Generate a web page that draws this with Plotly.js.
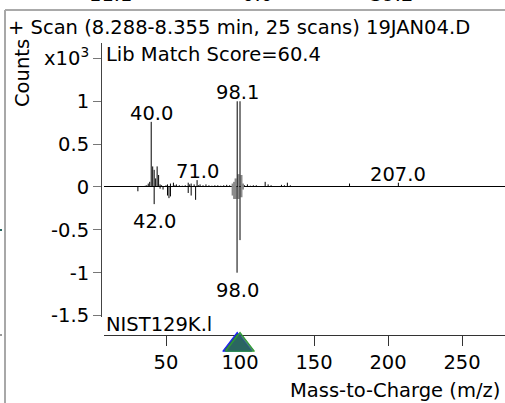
<!DOCTYPE html>
<html>
<head>
<meta charset="utf-8">
<script src="https://cdn.plot.ly/plotly-3.0.1.min.js"></script>
<style>html,body{margin:0;padding:0;background:#fff;}#chart{width:505px;height:403px;}</style>
</head>
<body>
<div id="chart"></div>
<script>
// ---- data (intensities in x10^3 counts) ----
const sampleMz  = [35,36,37,38,39,40,41,42,43,44,45,46,47,49,50,51,53,55,56,57,59,61,63,65,66,67,69,71,72,73,75,77,79,81,83,85,87,89,91,93,98.1,100,103,105,107,109,111,113,117,119,121,128,130,132,134,141,147,155,161,174,176,189,199,207,213,222,233,250,252];
const sampleInt = [0.01,0.015,0.02,0.04,0.06,0.76,0.24,0.2,0.1,0.24,0.14,0.03,0.02,0.01,0.02,0.03,0.04,0.05,0.02,0.03,0.02,0.015,0.02,0.05,0.03,0.04,0.03,0.08,0.02,0.03,0.02,0.03,0.02,0.015,0.02,0.02,0.015,0.02,0.025,0.02,1.0,1.0,0.02,0.03,0.015,0.02,0.02,0.01,0.06,0.03,0.02,0.025,0.02,0.05,0.02,0.01,0.01,0.008,0.01,0.04,0.01,0.01,0.01,0.05,0.01,0.01,0.008,0.01,0.008];
const libraryMz  = [31,42,46,48,51,52,53,65,67,70,98,100];
const libraryInt = [-0.05,-0.2,-0.02,-0.03,-0.1,-0.13,-0.11,-0.07,-0.1,-0.15,-1.0,-0.62];
// dense minor peaks around m/z 98 (render as a grey block)
const clusterMz  = [95,96,97,99,101,102];
const clusterPos = [0.04,0.06,0.1,0.15,0.14,0.04];
const clusterNeg = [-0.1,-0.14,-0.14,-0.14,-0.12,-0.03];
// peak labels
const sampleLabelText = ['40.0','98.1','71.0','207.0'];
const sampleLabelMz   = [40,98.1,71,207];
const sampleLabelInt  = [0.76,1.0,0.08,0.05];
const libLabelText = ['42.0','98.0'];
const libLabelMz   = [42,98];
const libLabelInt  = [-0.2,-1.0];
// precursor markers
const markerMz = [98.1,100];
// y ticks
const yTickVals = [-1.5,-1,-0.5,0,0.5,1,1.5];
const yTickText = ['-1.5','-1','-0.5','0','0.5','1','x10<sup>3</sup>'];
const xTickVals = [50,100,150,200,250];
// header text
const titleText = '+ Scan (8.288-8.355 min, 25 scans) 19JAN04.D';
const scoreText = 'Lib Match Score=60.4';
const libText = 'NIST129K.l';
const clippedTop = ['11.1','0.0','39.2'];

// ---- helpers ----
function sticks(mz, vals){
  const x=[],y=[];
  mz.forEach((m,i)=>{x.push(m,m,null);y.push(0,vals[i],null);});
  return {x,y};
}
const W=505,H=403;
const px=v=>v/W, py=v=>(H-v)/H;
const F='DejaVu Sans';
const FS=19.5;

const s1=sticks(sampleMz,sampleInt), s2=sticks(libraryMz,libraryInt);
const c1=sticks(clusterMz,clusterPos), c2=sticks(clusterMz,clusterNeg);

const traces=[
  {x:c1.x,y:c1.y,mode:'lines',line:{color:'#8a8a8a',width:2},hoverinfo:'skip'},
  {x:c2.x,y:c2.y,mode:'lines',line:{color:'#8a8a8a',width:2},hoverinfo:'skip'},
  {x:s1.x,y:s1.y,mode:'lines',line:{color:'#000',width:1},hoverinfo:'skip'},
  {x:s2.x,y:s2.y,mode:'lines',line:{color:'#000',width:1},hoverinfo:'skip'},
  {x:[markerMz[0]],y:[0.5],yaxis:'y2',mode:'markers',cliponaxis:false,
   marker:{symbol:'triangle-up',size:25,color:'#2a6660',line:{color:'#1a1aff',width:1.2}}},
  {x:[markerMz[1]],y:[0.5],yaxis:'y2',mode:'markers',cliponaxis:false,
   marker:{symbol:'triangle-up',size:25,color:'rgba(42,102,96,0.85)',line:{color:'#2ea02e',width:1.2}}}
];

const ann=[];
sampleLabelText.forEach((t,i)=>ann.push({x:sampleLabelMz[i],y:sampleLabelInt[i],xref:'x',yref:'y',text:t,showarrow:false,
  xanchor:'center',yanchor:'bottom',yshift:-5,font:{family:F,size:FS,color:'#000'}}));
libLabelText.forEach((t,i)=>ann.push({x:libLabelMz[i],y:libLabelInt[i],xref:'x',yref:'y',text:t,showarrow:false,
  xanchor:'center',yanchor:'top',yshift:-4,font:{family:F,size:FS,color:'#000'}}));
ann.push({x:px(6),y:py(28),xref:'paper',yref:'paper',text:titleText,showarrow:false,xanchor:'left',yanchor:'middle',font:{family:F,size:FS,color:'#000'}});
ann.push({x:px(104),y:py(55),xref:'paper',yref:'paper',text:scoreText,showarrow:false,xanchor:'left',yanchor:'middle',font:{family:F,size:FS,color:'#000'}});
ann.push({x:px(104),y:py(324),xref:'paper',yref:'paper',text:libText,showarrow:false,xanchor:'left',yanchor:'middle',font:{family:F,size:FS,color:'#000'}});
ann.push({x:px(502),y:py(390),xref:'paper',yref:'paper',text:'Mass-to-Charge (m/z)',showarrow:false,xanchor:'right',yanchor:'middle',font:{family:F,size:FS,color:'#000'}});
ann.push({x:px(22),y:py(73),xref:'paper',yref:'paper',text:'Counts',textangle:-90,showarrow:false,xanchor:'center',yanchor:'middle',font:{family:F,size:FS,color:'#000'}});
[110,257,391].forEach((cx,i)=>ann.push({x:px(cx),y:py(8),xref:'paper',yref:'paper',text:clippedTop[i],showarrow:false,xanchor:'center',yanchor:'bottom',font:{family:F,size:FS,color:'#000'}}));

const shapes=[
  {type:'line',xref:'paper',yref:'paper',x0:px(5),x1:1,y0:py(10),y1:py(10),line:{color:'#555',width:1}},
  {type:'line',xref:'paper',yref:'paper',x0:px(5),x1:px(5),y0:py(10),y1:0,line:{color:'#a8a8a8',width:2}},
  {type:'line',xref:'paper',yref:'paper',x0:0,x1:px(2),y0:py(230),y1:py(230),line:{color:'#2a6660',width:2}},
  {type:'line',xref:'paper',yref:'paper',x0:0,x1:px(2),y0:py(335),y1:py(335),line:{color:'#999',width:2}}
];

const layout={
  width:W,height:H,margin:{l:0,r:0,t:0,b:0},paper_bgcolor:'#fff',plot_bgcolor:'#fff',showlegend:false,
  xaxis:{domain:[px(104),1],range:[8.1,279.05],anchor:'free',position:py(335),showline:true,linecolor:'#333',linewidth:1,
    ticks:'outside',ticklen:10,tickcolor:'#333',tickvals:xTickVals,showgrid:false,zeroline:false,
    tickfont:{family:F,size:FS,color:'#000'}},
  yaxis:{domain:[py(317),py(43)],range:[-1.517,1.680],anchor:'free',position:px(101),showline:true,linecolor:'#444',linewidth:1,
    ticks:'outside',ticklen:8,tickcolor:'#777',tickvals:yTickVals,ticktext:yTickText,showgrid:false,
    zeroline:true,zerolinecolor:'#000',zerolinewidth:1,tickfont:{family:F,size:FS,color:'#000'}},
  yaxis2:{domain:[py(360),py(330)],range:[0,1],anchor:'x',visible:false,showgrid:false,zeroline:false},
  annotations:ann,shapes:shapes
};
Plotly.newPlot('chart',traces,layout,{displayModeBar:false,staticPlot:true});
</script>
</body>
</html>
